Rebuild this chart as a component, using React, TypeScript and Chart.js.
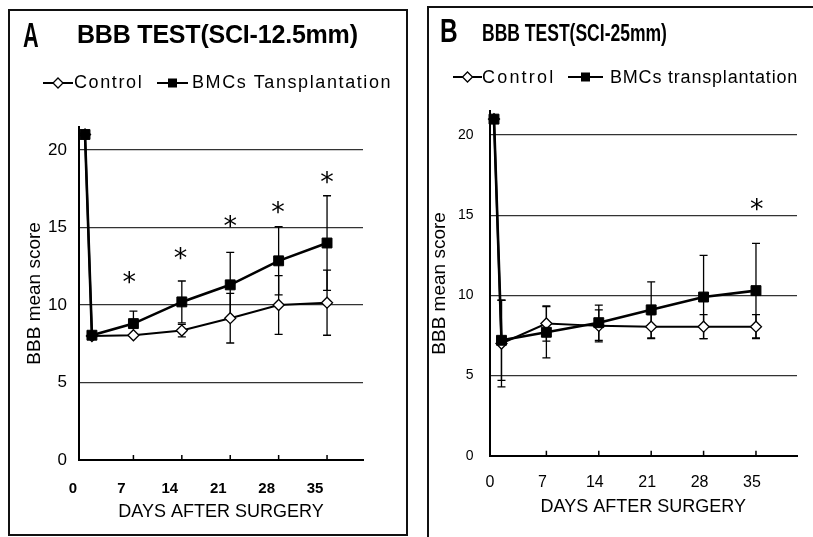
import React, { useEffect, useRef } from 'react';
import { Chart, registerables } from 'chart.js';

Chart.register(...registerables);

// ---------- data ----------
const DAYS = [0, 1, 7, 14, 21, 28, 35];
const X_TICKS = [0, 7, 14, 21, 28, 35];
const X_TICK_LABELS = ['0', '7', '14', '21', '28', '35'];
const Y_TICKS = [0, 5, 10, 15, 20];

// Panel A: SCI-12.5mm
const CONTROL_A = [21, 8.0, 8.05, 8.35, 9.15, 10.0, 10.15];
const CONTROL_ERR_A = [0, 0, 0, 0.4, 1.6, 1.9, 2.1];
const BMC_A = [21, 8.05, 8.8, 10.2, 11.3, 12.85, 14.0];
const BMC_ERR_A = [0, 0, 0.8, 1.35, 2.1, 2.2, 3.05];
const STAR_DAYS_A = [6.4, 13.8, 21, 27.9, 35];
const STAR_Y_A = [11.75, 13.3, 15.4, 16.3, 18.2];

// Panel B: SCI-25mm
const CONTROL_B = [21, 7.0, 8.25, 8.1, 8.05, 8.05, 8.05];
const CONTROL_ERR_B = [0, 2.7, 1.1, 1.0, 0.75, 0.75, 0.75];
const BMC_B = [21, 7.2, 7.7, 8.3, 9.1, 9.9, 10.3];
const BMC_ERR_B = [0, 2.5, 1.6, 1.1, 1.75, 2.6, 2.95];
const STAR_DAYS_B = [35.1];
const STAR_Y_B = [15.7];

const FONT = '"Liberation Sans", Arial, Helvetica, sans-serif';

// ---------- plugins ----------
const errorBarPlugin = {
  id: 'errorBars',
  beforeDatasetsDraw(chart: any, _a: any, opts: any) {
    const { ctx, scales } = chart;
    const xs = scales.x, ys = scales.y;
    const sets = opts.sets || [];
    ctx.save();
    ctx.strokeStyle = '#000';
    ctx.lineWidth = 1.3;
    for (const s of sets) {
      for (let i = 0; i < s.x.length; i++) {
        const e = s.err[i];
        if (!e) continue;
        const px = xs.getPixelForValue(s.x[i]);
        const top = ys.getPixelForValue(s.y[i] + e);
        const bot = ys.getPixelForValue(s.y[i] - e);
        ctx.beginPath();
        ctx.moveTo(px, top);
        ctx.lineTo(px, bot);
        ctx.moveTo(px - 4, top);
        ctx.lineTo(px + 4, top);
        ctx.moveTo(px - 4, bot);
        ctx.lineTo(px + 4, bot);
        ctx.stroke();
      }
    }
    ctx.restore();
  },
};

const starPlugin = {
  id: 'stars',
  afterDatasetsDraw(chart: any, _a: any, opts: any) {
    const { ctx, scales } = chart;
    const xs = scales.x, ys = scales.y;
    ctx.save();
    ctx.fillStyle = '#000';
    ctx.font = `27px "DejaVu Sans", ${FONT}`;
    ctx.textAlign = 'center';
    ctx.textBaseline = 'alphabetic';
    const m = ctx.measureText('*');
    const shift = (m.actualBoundingBoxAscent - m.actualBoundingBoxDescent) / 2;
    const days = opts.days || [];
    const vals = opts.values || [];
    for (let i = 0; i < days.length; i++) {
      ctx.fillText('*', xs.getPixelForValue(days[i]), ys.getPixelForValue(vals[i]) + shift);
    }
    ctx.restore();
  },
};

const innerTickPlugin = {
  id: 'innerTicks',
  afterDraw(chart: any) {
    const { ctx, scales, chartArea } = chart;
    const xs = scales.x;
    ctx.save();
    ctx.strokeStyle = '#000';
    ctx.lineWidth = 1.5;
    ctx.beginPath();
    for (const t of X_TICKS) {
      if (t === 0) continue;
      const px = xs.getPixelForValue(t);
      ctx.moveTo(px, chartArea.bottom);
      ctx.lineTo(px, chartArea.bottom - 5);
    }
    ctx.stroke();
    ctx.restore();
  },
};

type PanelParams = {
  control: number[];
  controlErr: number[];
  bmc: number[];
  bmcErr: number[];
  starDays: number[];
  starY: number[];
  xMin: number;
  xMax: number;
  padRight: number;
  padTop: number;
  yAxisW: number;
  xAxisH: number;
  xLabelFont: any;
  xLabelPad: number;
  xLabelOffset: number;
  xTitlePad: number;
  yLabelFont: any;
  yLabelPad: number;
  yTitlePad: number;
};

function makeConfig(p: PanelParams): any {
  return {
    type: 'line',
    data: {
      datasets: [
        {
          label: 'BMCs',
          data: DAYS.map((d, i) => ({ x: d, y: p.bmc[i] })),
          borderColor: '#000',
          borderWidth: 2.6,
          pointStyle: 'rect',
          pointRadius: 7,
          pointBackgroundColor: '#000',
          pointBorderColor: '#000',
          pointBorderWidth: 1,
          tension: 0,
          clip: false,
        },
        {
          label: 'Control',
          data: DAYS.map((d, i) => ({ x: d, y: p.control[i] })),
          borderColor: '#000',
          borderWidth: 2,
          pointStyle: 'rectRot',
          pointRadius: 5.5,
          pointBackgroundColor: '#fff',
          pointBorderColor: '#000',
          pointBorderWidth: 1.3,
          tension: 0,
          clip: false,
        },
      ],
    },
    options: {
      responsive: false,
      maintainAspectRatio: false,
      animation: false,
      events: [],
      layout: { padding: { left: 0, right: p.padRight, top: p.padTop, bottom: 0 } },
      plugins: {
        legend: { display: false },
        tooltip: { enabled: false },
        errorBars: {
          sets: [
            { x: DAYS, y: p.control, err: p.controlErr },
            { x: DAYS, y: p.bmc, err: p.bmcErr },
          ],
        },
        stars: { days: p.starDays, values: p.starY },
      },
      scales: {
        x: {
          type: 'linear',
          min: p.xMin,
          max: p.xMax,
          afterBuildTicks: (s: any) => {
            s.ticks = X_TICKS.map((v) => ({ value: v }));
          },
          afterFit: (s: any) => {
            s.height = p.xAxisH;
          },
          grid: { display: false },
          border: { color: '#000', width: 2 },
          ticks: {
            color: '#000',
            font: p.xLabelFont,
            padding: p.xLabelPad,
            labelOffset: p.xLabelOffset,
            autoSkip: false,
            maxRotation: 0,
            callback: (_v: any, i: number) => X_TICK_LABELS[i] ?? '',
          },
          title: {
            display: true,
            text: 'DAYS AFTER SURGERY',
            color: '#000',
            font: { family: FONT, size: 18 },
            padding: { top: 0, bottom: p.xTitlePad },
          },
        },
        y: {
          type: 'linear',
          min: 0,
          max: 21.5,
          afterBuildTicks: (s: any) => {
            s.ticks = Y_TICKS.map((v) => ({ value: v }));
          },
          afterFit: (s: any) => {
            s.width = p.yAxisW;
          },
          grid: { color: '#333', lineWidth: 1.3, drawTicks: false },
          border: { color: '#000', width: 2 },
          ticks: {
            color: '#000',
            font: p.yLabelFont,
            padding: p.yLabelPad,
          },
          title: {
            display: true,
            text: 'BBB mean score',
            color: '#000',
            font: { family: FONT, size: 19 },
            padding: { top: p.yTitlePad, bottom: 0 },
          },
        },
      },
    },
    plugins: [errorBarPlugin, starPlugin, innerTickPlugin],
  };
}

const PARAMS_A: PanelParams = {
  control: CONTROL_A,
  controlErr: CONTROL_ERR_A,
  bmc: BMC_A,
  bmcErr: BMC_ERR_A,
  starDays: STAR_DAYS_A,
  starY: STAR_Y_A,
  xMin: -0.87,
  xMax: 40.2,
  padRight: 57,
  padTop: 126.75,
  yAxisW: 79,
  xAxisH: 77,
  xLabelFont: { family: FONT, size: 15, weight: 'bold' },
  xLabelPad: 12,
  xLabelOffset: -12,
  xTitlePad: 13.7,
  yLabelFont: { family: FONT, size: 17 },
  yLabelPad: 12,
  yTitlePad: 23,
};

const PARAMS_B: PanelParams = {
  control: CONTROL_B,
  controlErr: CONTROL_ERR_B,
  bmc: BMC_B,
  bmcErr: BMC_ERR_B,
  starDays: STAR_DAYS_B,
  starY: STAR_Y_B,
  xMin: -0.6,
  xMax: 40.48,
  padRight: 16,
  padTop: 111.1,
  yAxisW: 69.5,
  xAxisH: 81.3,
  xLabelFont: { family: FONT, size: 16 },
  xLabelPad: 9,
  xLabelOffset: -4,
  xTitlePad: 19.2,
  yLabelFont: { family: FONT, size: 14 },
  yLabelPad: 16,
  yTitlePad: 8,
};

function ChartCanvas({ params, left, width }: { params: PanelParams; left: number; width: number }) {
  const ref = useRef<HTMLCanvasElement | null>(null);
  useEffect(() => {
    if (!ref.current) return;
    const chart = new Chart(ref.current, makeConfig(params));
    return () => chart.destroy();
  }, [params]);
  return (
    <canvas
      ref={ref}
      width={width}
      height={537}
      style={{ position: 'absolute', left, top: 0, width, height: 537 }}
    />
  );
}

function Txt({
  children,
  left,
  baseline,
  size,
  bold,
  spacing,
  scaleX,
}: {
  children: React.ReactNode;
  left: number;
  baseline: number;
  size: number;
  bold?: boolean;
  spacing?: number;
  scaleX?: number;
}) {
  return (
    <div
      style={{
        position: 'absolute',
        left,
        top: baseline - 0.8465 * size,
        fontFamily: FONT,
        fontSize: size,
        fontWeight: bold ? 'bold' : 'normal',
        lineHeight: 1,
        letterSpacing: spacing ? `${spacing}px` : undefined,
        whiteSpace: 'nowrap',
        color: '#000',
        transform: scaleX ? `scaleX(${scaleX})` : undefined,
        transformOrigin: 'left top',
      }}
    >
      {children}
    </div>
  );
}

function LegendSymbol({ left, cy, width, kind }: { left: number; cy: number; width: number; kind: 'diamond' | 'square' }) {
  const h = 14;
  const mid = width / 2;
  return (
    <svg
      width={width}
      height={h}
      style={{ position: 'absolute', left, top: cy - h / 2 }}
    >
      <line x1={0} y1={h / 2} x2={width} y2={h / 2} stroke="#000" strokeWidth={2} />
      {kind === 'diamond' ? (
        <polygon
          points={`${mid},${h / 2 - 5} ${mid + 5},${h / 2} ${mid},${h / 2 + 5} ${mid - 5},${h / 2}`}
          fill="#fff"
          stroke="#000"
          strokeWidth={1.3}
        />
      ) : (
        <rect x={mid - 4.5} y={h / 2 - 4.5} width={9} height={9} fill="#000" />
      )}
    </svg>
  );
}

export default function App() {
  return (
    <div
      style={{
        position: 'absolute',
        left: 0,
        top: 0,
        width: 813,
        height: 537,
        overflow: 'hidden',
        background: '#fff',
      }}
    >
      {/* panel frames */}
      <div
        style={{
          position: 'absolute',
          left: 8,
          top: 9,
          width: 400,
          height: 527,
          border: '2px solid #111',
          boxSizing: 'border-box',
        }}
      />
      <div
        style={{
          position: 'absolute',
          left: 427,
          top: 6,
          width: 420,
          height: 560,
          border: '2px solid #111',
          boxSizing: 'border-box',
        }}
      />

      <ChartCanvas params={PARAMS_A} left={0} width={420} />
      <ChartCanvas params={PARAMS_B} left={420} width={393} />

      {/* Panel A header */}
      <Txt left={23} baseline={47} size={35} bold scaleX={0.62}>A</Txt>
      <Txt left={77} baseline={43} size={25} bold spacing={-0.2}>BBB TEST(SCI-12.5mm)</Txt>
      <LegendSymbol left={43} cy={83} width={30} kind="diamond" />
      <Txt left={74} baseline={88} size={18} spacing={1.6}>Control</Txt>
      <LegendSymbol left={157} cy={83} width={31} kind="square" />
      <Txt left={192} baseline={88} size={18} spacing={1.6}>BMCs Tansplantation</Txt>

      {/* Panel B header */}
      <Txt left={440} baseline={42} size={34} bold scaleX={0.72}>B</Txt>
      <Txt left={482} baseline={41} size={24} bold scaleX={0.73}>BBB TEST(SCI-25mm)</Txt>
      <LegendSymbol left={453} cy={77} width={29} kind="diamond" />
      <Txt left={482} baseline={83} size={18} spacing={2.2}>Control</Txt>
      <LegendSymbol left={568} cy={77} width={35} kind="square" />
      <Txt left={610} baseline={83} size={18} spacing={0.8}>BMCs transplantation</Txt>
    </div>
  );
}
